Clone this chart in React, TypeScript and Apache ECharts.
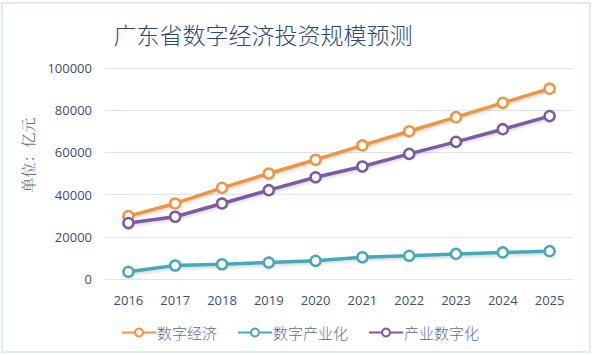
import React, { useEffect, useRef } from "react";
import * as echarts from "echarts";

const years = ["2016", "2017", "2018", "2019", "2020", "2021", "2022", "2023", "2024", "2025"];
const digitalEconomy = [29800, 35800, 43200, 50000, 56500, 63300, 70000, 76700, 83500, 90200];
const digitalIndustrialization = [3400, 6400, 7000, 7800, 8600, 10300, 11000, 11900, 12600, 13200];
const industrialDigitalization = [26500, 29500, 35800, 42100, 48200, 53300, 59300, 65000, 71000, 77200];
const seriesNames = ["数字经济", "数字产业化", "产业数字化"];
const seriesColors = ["#f0943f", "#45a9b8", "#7b5ba1"];

export default function App() {
  const ref = useRef<HTMLDivElement>(null);
  useEffect(() => {
    if (!ref.current) return;
    const chart = echarts.init(ref.current, null, { renderer: "svg" });
    const datas = [digitalEconomy, digitalIndustrialization, industrialDigitalization];
    chart.setOption({
      animation: false,
      backgroundColor: "#ffffff",
      graphic: [
        {
          type: "rect",
          shape: { x: 2, y: 3, width: 588, height: 349 },
          style: { fill: "none", stroke: "#e2e9f3", lineWidth: 2 },
          silent: true,
        },
        {
          type: "text",
          x: 27,
          y: 155,
          rotation: Math.PI / 2,
          style: {
            text: "单位：亿元",
            fill: "#5a7394",
            font: "15px 'Noto Serif CJK SC', 'Noto Sans CJK SC', serif",
            align: "center",
            verticalAlign: "middle",
          },
        },
      ],
      title: {
        text: "广东省数字经济投资规模预测",
        left: 258,
        textAlign: "center",
        top: 17,
        textStyle: {
          fontSize: 23,
          fontWeight: 300,
          color: "#2c4a70",
          fontFamily: "'Noto Sans CJK SC', sans-serif",
        },
      },
      legend: {
        data: seriesNames,
        left: "center",
        top: 320,
        itemWidth: 34,
        itemHeight: 10,
        itemGap: 20,
        textStyle: {
          fontSize: 15,
          color: "#5b6e8f",
          fontFamily: "'Noto Sans CJK SC', serif",
          fontWeight: 300,
          padding: [0, 0, 0, -4],
        },
      },
      grid: { left: 105, right: 27, top: 68, bottom: 76 },
      xAxis: {
        type: "category",
        data: years,
        boundaryGap: true,
        axisLine: { show: false },
        axisTick: { show: false },
        axisLabel: {
          color: "#3f4f66",
          fontSize: 13,
          margin: 14,
          fontFamily: "'Open Sans', sans-serif",
        },
      },
      yAxis: {
        type: "value",
        min: 0,
        max: 100000,
        interval: 20000,
        axisLine: { show: false },
        axisTick: { show: false },
        splitLine: { lineStyle: { color: "#dce5ef", width: 1 } },
        axisLabel: {
          color: "#3f4f66",
          fontSize: 13,
          margin: 13,
          fontFamily: "'Open Sans', sans-serif",
          formatter: (v: number) => String(v),
        },
      },
      series: seriesNames.map((name, i) => ({
        name,
        type: "line",
        data: datas[i],
        symbol: "circle",
        symbolSize: 10,
        showSymbol: true,
        lineStyle: {
          color: seriesColors[i],
          width: 3.5,
          shadowColor: "rgba(0,0,0,0.15)",
          shadowBlur: 3,
          shadowOffsetY: 2,
        },
        itemStyle: {
          color: "#ffffff",
          borderColor: seriesColors[i],
          borderWidth: 2.5,
        },
      })),
    });
    return () => chart.dispose();
  }, []);
  return <div ref={ref} style={{ width: 600, height: 355, position: "absolute", left: 0, top: 0 }} />;
}
